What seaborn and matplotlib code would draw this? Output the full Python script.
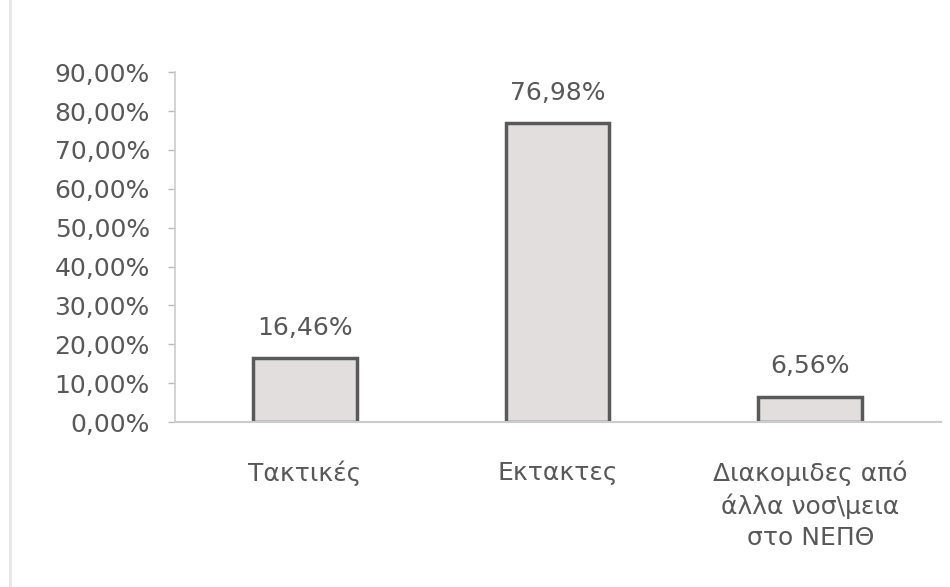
import matplotlib
matplotlib.use("Agg")
import matplotlib.pyplot as plt
import seaborn as sns
import pandas as pd

categories = ["Τακτικές", "Εκτακτες", "Διακομιδες από\nάλλα νοσ\\μεια\nστο ΝΕΠΘ"]
values = [16.46, 76.98, 6.56]
value_labels = ["16,46%", "76,98%", "6,56%"]
yticks = [0, 10, 20, 30, 40, 50, 60, 70, 80, 90]
ytick_labels = ["0,00%", "10,00%", "20,00%", "30,00%", "40,00%", "50,00%",
                "60,00%", "70,00%", "80,00%", "90,00%"]

sns.set_theme(style="white")
plt.rcParams['font.family'] = ['DejaVu Sans']

df = pd.DataFrame({"cat": categories, "val": values})

fig = plt.figure(figsize=(9.5, 5.87), dpi=100)
ax = fig.add_axes([0.184, 0.281, 0.806, 0.596])

text_color = "#58585a"
fs = 18
sns.barplot(data=df, x="cat", y="val", ax=ax, color="#e2dede",
            edgecolor="#59595b", linewidth=2.5, width=0.41, saturation=1)

ax.set_xlim(-0.516, 2.516)
ax.set_ylim(0, 90)
ax.set_yticks(yticks)
ax.set_yticklabels(ytick_labels, fontsize=fs, color=text_color)
ax.tick_params(axis="y", length=5, width=1, color="#bbbbbb", pad=13, left=True)
ax.tick_params(axis="x", length=0, pad=28, labelsize=fs, labelcolor=text_color)
for lbl in ax.get_xticklabels():
    lbl.set_linespacing(1.35)
    lbl.set_verticalalignment("top")

ax.set_xlabel("")
ax.set_ylabel("")
for s in ["top", "right"]:
    ax.spines[s].set_visible(False)
ax.spines["left"].set_color("#cccccc")
ax.spines["bottom"].set_color("#cccccc")
ax.spines["left"].set_linewidth(1.2)
ax.spines["bottom"].set_linewidth(1.5)

for i, (v, t) in enumerate(zip(values, value_labels)):
    ax.annotate(t, (i, v), xytext=(0, 13), textcoords="offset points",
                ha="center", va="bottom", fontsize=fs, color=text_color)

fig.add_artist(plt.Line2D([0.011, 0.011], [0, 1], transform=fig.transFigure,
                          color="#e6e6e6", linewidth=2))

fig.savefig("out.png", dpi=100, facecolor="white")
